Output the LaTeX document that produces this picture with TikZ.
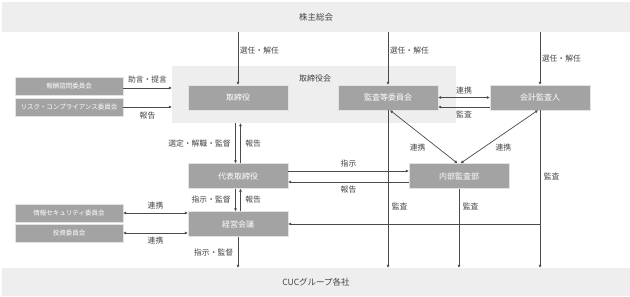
\documentclass[tikz,border=0pt]{standalone}
\usepackage{fontspec}
\setmainfont{Noto Sans CJK JP}
\usepackage{tikz}
\usetikzlibrary{positioning, arrows.meta, calc}
\definecolor{mBox}{HTML}{A3A3A3}
\definecolor{mBand}{HTML}{EEEEEE}
\definecolor{mLine}{HTML}{4A4A4A}
\definecolor{mText}{HTML}{444444}

\begin{document}
\begin{tikzpicture}[x=1pt, y=-1pt,
  band/.style={fill=mBand, inner sep=0pt, text=mText, font=\fontsize{8.5}{10}\selectfont},
  box/.style={fill=mBox, draw=white!70!mBox, minimum width=100pt, minimum height=25pt,
              inner sep=0pt, text=white, font=\fontsize{8}{10}\selectfont},
  sbox/.style={box, minimum width=108pt, minimum height=18pt, font=\fontsize{6.5}{8}\selectfont},
  lbl/.style={text=mText, inner sep=1.5pt, font=\fontsize{7.8}{9}\selectfont},
  arr/.style={draw=mLine, line width=0.7pt, -{Latex[length=3pt, width=3pt]}},
  darr/.style={arr, {Latex[length=3pt, width=3pt]}-{Latex[length=3pt, width=3pt]}},
]
  \path[use as bounding box, fill=white] (0,0) rectangle (630,297);

  \node[band, minimum width=628pt, minimum height=30pt] (gm) at (316,17) {株主総会};
  \node[band, minimum width=628pt, minimum height=28pt] (cuc) at (316,282) {CUCグループ各社};
  \node[band, minimum width=284pt, minimum height=57pt] (board) at (314,94.5) {};
  \node[lbl, font=\fontsize{8}{10}\selectfont] (boardlbl) at (315,78) {取締役会};

  \node[box] (dir) at (238,97.5) {取締役};
  \node[box] (ac) at (388,97.5) {監査等委員会};
  \node[box] (aud) at (540,97.5) {会計監査人};
  \node[box] (ceo) at (238,176) {代表取締役};
  \node[box] (mgmt) at (238,224) {経営会議};
  \node[box] (ia) at (459,176) {内部監査部};

  \node[sbox] (rem) at (69,86) {報酬諮問委員会};
  \node[sbox] (risk) at (69,107) {リスク・コンプライアンス委員会};
  \node[sbox] (sec) at (69,213) {情報セキュリティ委員会};
  \node[sbox] (inv) at (69,233) {投資委員会};

  \draw[arr] (gm.south -| dir.north) -- (dir.north) node[lbl, right, pos=0.34] (l1) {選任・解任};
  \draw[arr] (gm.south -| ac.north) -- (ac.north) node[lbl, right, pos=0.34] (l2) {選任・解任};
  \draw[arr] (gm.south -| aud.north) -- (aud.north) node[lbl, right, pos=0.5] (l3) {選任・解任};

  \draw[arr] ([yshift=-2pt]rem.east) -- ([yshift=-2pt]rem.east -| board.west)
    node[lbl, midway, above=3pt] (l4) {助言・提言};
  \draw[arr] (risk.east) -- (risk.east -| board.west)
    node[lbl, midway, below=3pt] (l5) {報告};

  \draw[darr] (ac.east) -- (aud.west) node[lbl, midway, above=2pt] (l6) {連携};
  \draw[arr] ([yshift=-9.5pt]aud.west) -- ([yshift=-9.5pt]ac.east)
    node[lbl, midway, below=2pt] (l7) {監査};

  \draw[arr] ([xshift=-2.5pt]dir.south |- board.south) -- ([xshift=-2.5pt]ceo.north)
    node[lbl, midway, left=3pt] (l8) {選定・解職・監督};
  \draw[arr] ([xshift=2.5pt]ceo.north) -- ([xshift=2.5pt]dir.south |- board.south)
    node[lbl, midway, right=3pt] (l9) {報告};

  \draw[arr] ([xshift=-2.5pt]ceo.south) -- ([xshift=-2.5pt]mgmt.north)
    node[lbl, midway, left=3pt] (l10) {指示・監督};
  \draw[arr] ([xshift=2.5pt]mgmt.north) -- ([xshift=2.5pt]ceo.south)
    node[lbl, midway, right=3pt] (l11) {報告};
  \draw[arr] (mgmt.south) -- (mgmt.south |- cuc.north)
    node[lbl, midway, left=3pt] (l12) {指示・監督};

  \draw[arr] ([yshift=5pt]ceo.east) -- ([yshift=5pt]ia.west)
    node[lbl, midway, above=2pt] (l13) {指示};
  \draw[arr] ([yshift=-6pt]ia.west) -- ([yshift=-6pt]ceo.east)
    node[lbl, midway, below=2pt] (l14) {報告};

  \draw[darr] (sec.east) -- (sec.east -| mgmt.west) node[lbl, midway, above=2pt] (l15) {連携};
  \draw[darr] (inv.east) -- (inv.east -| mgmt.west) node[lbl, midway, below=2pt] (l16) {連携};

  \draw[darr] ([xshift=2pt]ac.south) -- ([xshift=-1.5pt]ia.north)
    node[lbl, pos=0.7, left=10pt] (l17) {連携};
  \draw[darr] ([xshift=-2pt]aud.south) -- ([xshift=1.5pt]ia.north)
    node[lbl, pos=0.7, right=10pt] (l18) {連携};

  \draw[arr] (ac.south) -- (ac.south |- cuc.north) node[lbl, pos=0.61, right=2pt] (l19) {監査};
  \draw[arr] (ia.south) -- (ia.south |- cuc.north) node[lbl, pos=0.23, right=2pt] (l20) {監査};
  \draw[arr] (aud.south) -- (aud.south |- cuc.north) node[lbl, pos=0.42, right=2pt] (l21) {監査};
  \draw[arr] (aud.south |- mgmt.east) -- (mgmt.east);
\end{tikzpicture}
\end{document}
